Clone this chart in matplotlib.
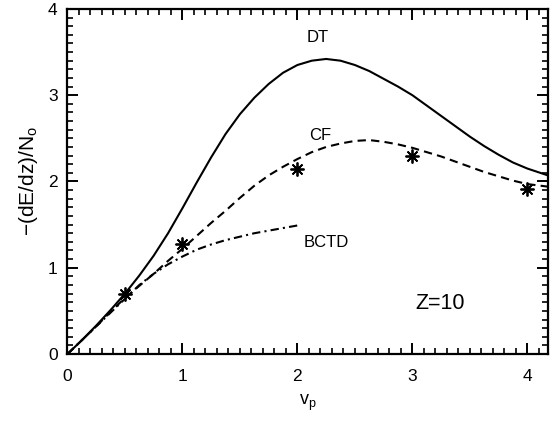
import matplotlib
matplotlib.use("Agg")
import matplotlib.pyplot as plt
from matplotlib.ticker import MultipleLocator

plt.rcParams['font.family'] = ['Liberation Sans', 'DejaVu Sans']
plt.rcParams['mathtext.fontset'] = 'custom'
plt.rcParams['mathtext.rm'] = 'Liberation Sans'
plt.rcParams['mathtext.it'] = 'Liberation Sans'

# DT (solid)
dt_x = [0, 0.125, 0.25, 0.375, 0.5, 0.625, 0.75, 0.875, 1.0, 1.125, 1.25, 1.375, 1.5, 1.625,
        1.75, 1.875, 2.0, 2.125, 2.25, 2.375, 2.5, 2.625, 2.75, 2.875, 3.0, 3.125, 3.25,
        3.375, 3.5, 3.625, 3.75, 3.875, 4.0, 4.18]
dt_y = [0, 0.16, 0.33, 0.51, 0.70, 0.91, 1.14, 1.40, 1.69, 1.99, 2.28, 2.55, 2.78, 2.97,
        3.13, 3.26, 3.35, 3.40, 3.42, 3.40, 3.35, 3.28, 3.19, 3.10, 3.00, 2.88, 2.76,
        2.64, 2.52, 2.41, 2.31, 2.22, 2.15, 2.07]
# CF (dashed)
cf_x = [0, 0.125, 0.25, 0.375, 0.5, 0.625, 0.75, 0.875, 1.0, 1.125, 1.25, 1.375, 1.5, 1.625,
        1.75, 1.875, 2.0, 2.125, 2.25, 2.375, 2.5, 2.625, 2.75, 2.875, 3.0, 3.125, 3.25,
        3.375, 3.5, 3.625, 3.75, 3.875, 4.0, 4.18]
cf_y = [0, 0.16, 0.32, 0.49, 0.65, 0.79, 0.93, 1.08, 1.22, 1.37, 1.52, 1.66, 1.81, 1.95,
        2.07, 2.17, 2.26, 2.34, 2.40, 2.44, 2.47, 2.48, 2.46, 2.43, 2.39, 2.34, 2.29,
        2.23, 2.17, 2.11, 2.06, 2.01, 1.97, 1.94]
# BCTD (dash-dot)
bctd_x = [0, 0.125, 0.25, 0.375, 0.5, 0.625, 0.75, 0.875, 1.0, 1.125, 1.25, 1.375, 1.5,
          1.625, 1.75, 1.875, 2.0]
bctd_y = [0, 0.16, 0.32, 0.48, 0.64, 0.80, 0.93, 1.04, 1.13, 1.21, 1.27, 1.32, 1.36,
          1.40, 1.43, 1.46, 1.49]
# simulation points (asterisks)
pts_x = [0.5, 1.0, 2.0, 3.0, 4.0]
pts_y = [0.69, 1.28, 2.15, 2.29, 1.91]

fig = plt.figure(figsize=(5.53, 4.25), dpi=100)
ax = fig.add_axes([0.122, 0.167, 0.869, 0.812])

ax.plot(dt_x, dt_y, color='black', lw=1.5, ls='-')
ax.plot(cf_x, cf_y, color='black', lw=1.5, ls=(0, (4, 2.5)))
ax.plot(bctd_x, bctd_y, color='black', lw=1.5, ls=(0, (4, 2, 1, 2)))
ax.plot(pts_x, pts_y, ls='none', marker=(8, 2, 0), ms=10, mew=1.3, color='black')

ax.set_xlim(0, 4.18)
ax.set_ylim(0, 4.0)
ax.xaxis.set_major_locator(MultipleLocator(1))
ax.xaxis.set_minor_locator(MultipleLocator(0.1))
ax.yaxis.set_major_locator(MultipleLocator(1))
ax.yaxis.set_minor_locator(MultipleLocator(0.1))
ax.tick_params(which='both', direction='in', top=True, right=True, labelsize=12.5)
ax.tick_params(which='major', length=8, width=1.4)
ax.tick_params(which='minor', length=4.5, width=1.2)
ax.tick_params(axis='x', which='major', pad=11)
ax.tick_params(axis='y', which='major', pad=7)
for s in ax.spines.values():
    s.set_linewidth(1.6)

ax.set_ylabel(r'$\mathregular{-(dE/dz)/N_o}$', fontsize=15, labelpad=6)
ax.set_xlabel(r'$\mathregular{v_p}$', fontsize=13, labelpad=6)

ax.text(2.18, 3.67, 'DT', fontsize=12, ha='center', va='center')
ax.text(2.2, 2.53, 'CF', fontsize=12, ha='center', va='center')
ax.text(2.25, 1.29, 'BCTD', fontsize=12, ha='center', va='center')
ax.text(3.24, 0.58, 'Z=10', fontsize=15.5, ha='center', va='center')

fig.canvas.draw()
ylabels = ax.get_yticklabels()
ylabels[0].set_va('bottom')
ylabels[-1].set_va('top')

fig.savefig('out.png', dpi=100)
